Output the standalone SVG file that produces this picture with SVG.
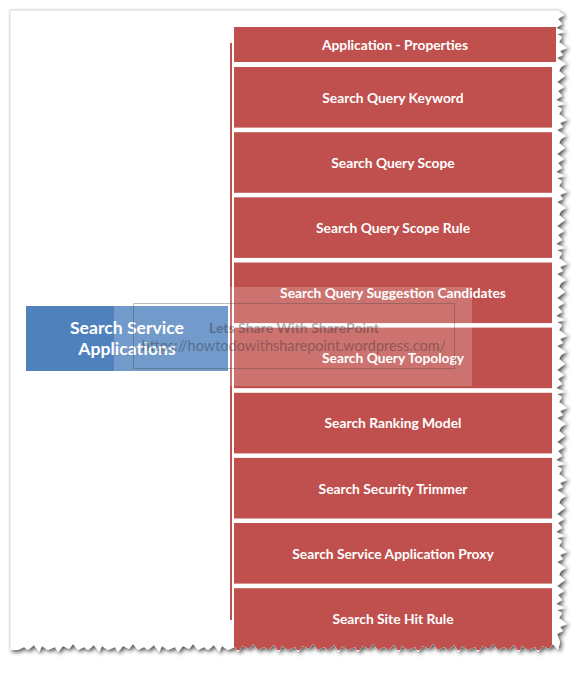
<svg xmlns="http://www.w3.org/2000/svg" width="586" height="673" viewBox="0 0 586 673">
<defs>
<style>
.box{fill:#C0504D}
.lbl{font-family:Lato,"Liberation Sans",sans-serif;font-weight:700;font-size:13.8px;fill:#fff;text-anchor:middle;dominant-baseline:central}
.wm{font-family:Lato,"Liberation Sans",sans-serif;fill:#2a2a2a;fill-opacity:0.4;text-anchor:middle;dominant-baseline:central}
.root{font-family:Lato,"Liberation Sans",sans-serif;font-weight:700;font-size:17.6px;fill:#fff;text-anchor:middle;dominant-baseline:central}
</style>
<filter id="sh" x="-5%" y="-5%" width="110%" height="110%">
<feDropShadow dx="2" dy="2" stdDeviation="2" flood-color="#000" flood-opacity="0.7"/>
</filter>
<path id="paper" d="M10 10 L557 10
l7 5 l-6 4 l4 5 l-6 4 l9 4 l-8 2 l5 3 l-3 5 l8 6 l-7 3 l3 4 l-6 3 l9 6 l-5 3 l-2 4 l6 5 l-4 3 l-4 3
l7 5 l-6 4 l4 5 l-6 4 l9 4 l-8 2 l5 3 l-3 5 l8 6 l-7 3 l3 4 l-6 3 l9 6 l-5 3 l-2 4 l6 5 l-4 3 l-4 3
l7 5 l-6 4 l4 5 l-6 4 l9 4 l-8 2 l5 3 l-3 5 l8 6 l-7 3 l3 4 l-6 3 l9 6 l-5 3 l-2 4 l6 5 l-4 3 l-4 3
l7 5 l-6 4 l4 5 l-6 4 l9 4 l-8 2 l5 3 l-3 5 l8 6 l-7 3 l3 4 l-6 3 l9 6 l-5 3 l-2 4 l6 5 l-4 3 l-4 3
l7 5 l-6 4 l4 5 l-6 4 l9 4 l-8 2 l5 3 l-3 5 l8 6 l-7 3 l3 4 l-6 3 l9 6 l-5 3 l-2 4 l6 5 l-4 3 l-4 3
l7 5 l-6 4 l4 5 l-6 4 l9 4 l-8 2 l5 3 l-3 5 l8 6 l-7 3 l3 4 l-6 3 l9 6 l-5 3 l-2 4 l6 5 l-4 3 l-4 3
l7 5 l-6 4 l4 5 l-6 4 l9 4 l-8 2 l5 3 l-3 5 l8 6 l-7 3 l3 4 l-6 3 l9 6 l-5 3 l-2 4 l6 5 l-4 3 l-4 3
l7 5 l-6 4 l4 5 l-6 4 l9 4 l-8 2 l5 3 l-3 5 l8 6 l-7 3 l3 4 l-6 3 l9 6 l-5 3 l-2 4 l6 5 l-4 3 l-4 3
l7 5 l-6 4 l4 5 l-6 4 l9 4 l-8 2 l5 3 l-3 5 l8 6 l-7 3 l3 4 l-6 3
l3 8 l-2 8
l-5 -6 l-4 5 l-6 -3 l-5 6 l-3 -5 l-7 3 l-6 -4 l-3 6 l-5 -7 l-6 5 l-4 -3 l-6 3
l-5 -6 l-4 5 l-6 -3 l-5 6 l-3 -5 l-7 3 l-6 -4 l-3 6 l-5 -7 l-6 5 l-4 -3 l-6 3
l-5 -6 l-4 5 l-6 -3 l-5 6 l-3 -5 l-7 3 l-6 -4 l-3 6 l-5 -7 l-6 5 l-4 -3 l-6 3
l-5 -6 l-4 5 l-6 -3 l-5 6 l-3 -5 l-7 3 l-6 -4 l-3 6 l-5 -7 l-6 5 l-4 -3 l-6 3
l-5 -6 l-4 5 l-6 -3 l-5 6 l-3 -5 l-7 3 l-6 -4 l-3 6 l-5 -7 l-6 5 l-4 -3 l-6 3
l-5 -6 l-4 5 l-6 -3 l-5 6 l-3 -5 l-7 3 l-6 -4 l-3 6 l-5 -7 l-6 5 l-4 -3 l-6 3
l-5 -6 l-4 5 l-6 -3 l-5 6 l-3 -5 l-7 3 l-6 -4 l-3 6 l-5 -7 l-6 5 l-4 -3 l-6 3
l-5 -6 l-4 5 l-6 -3 l-5 6 l-3 -5 l-7 3 l-6 -4 l-3 6 l-5 -7 l-6 5 l-4 -3 l-6 3
l-5 -6 l-4 5 l-6 -3 l-5 6 l-3 -5 l-7 3 l-6 -4 l-3 6 l-5 -7 l-6 5 l-4 -3 l-6 3
L10 650 Z"/>
<clipPath id="clip"><use href="#paper"/></clipPath>
</defs>
<rect width="586" height="673" fill="#fff"/>
<use href="#paper" fill="#fff" filter="url(#sh)"/>
<path d="M10 650 L10 10 L557 10" fill="none" stroke="#dcdcdc" stroke-width="1"/>
<g clip-path="url(#clip)">
<g id="connectors">
<line x1="231" y1="43" x2="231" y2="620" stroke="#C0504D" stroke-width="2"/>
</g>
<g id="root">
<rect x="26" y="306" width="202" height="65" fill="#4F81BD"/>
<text class="root" x="127" y="327">Search Service</text>
<text class="root" x="127" y="348">Applications</text>
</g>
<g id="n0"><rect class="box" x="234" y="27" width="322" height="35"/><text class="lbl" x="395" y="44">Application - Properties</text></g>
<g id="n1"><rect class="box" x="234" y="67" width="318" height="60.6"/><text class="lbl" x="393" y="97.3">Search Query Keyword</text></g>
<g id="n2"><rect class="box" x="234" y="132.2" width="318" height="60.6"/><text class="lbl" x="393" y="162">Search Query Scope</text></g>
<g id="n3"><rect class="box" x="234" y="197.3" width="318" height="60.6"/><text class="lbl" x="393" y="227">Search Query Scope Rule</text></g>
<g id="n4"><rect class="box" x="234" y="262.5" width="318" height="60.6"/><text class="lbl" x="393" y="292.5">Search Query Suggestion Candidates</text></g>
<g id="n5"><rect class="box" x="234" y="327.6" width="318" height="60.6"/><text class="lbl" x="393" y="357.5">Search Query Topology</text></g>
<g id="n6"><rect class="box" x="234" y="392.8" width="318" height="60.6"/><text class="lbl" x="393" y="422.5">Search Ranking Model</text></g>
<g id="n7"><rect class="box" x="234" y="457.9" width="318" height="60.6"/><text class="lbl" x="393" y="488">Search Security Trimmer</text></g>
<g id="n8"><rect class="box" x="234" y="523" width="318" height="60.6"/><text class="lbl" x="393" y="553">Search Service Application Proxy</text></g>
<g id="n9"><rect class="box" x="234" y="588.2" width="318" height="62"/><text class="lbl" x="393" y="618.3">Search Site Hit Rule</text></g>
<g id="watermark">
<rect x="114" y="287" width="358" height="99" fill="#fff" fill-opacity="0.2"/>
<rect x="133.5" y="303.5" width="321" height="65" fill="none" stroke="#444" stroke-opacity="0.35" stroke-width="1"/>
<text class="wm" x="294" y="327" font-size="14px" font-weight="700">Lets Share With SharePoint</text>
<text class="wm" x="294" y="345" font-size="14.5px">https://howtodowithsharepoint.wordpress.com/</text>
</g>
</g>
</svg>
